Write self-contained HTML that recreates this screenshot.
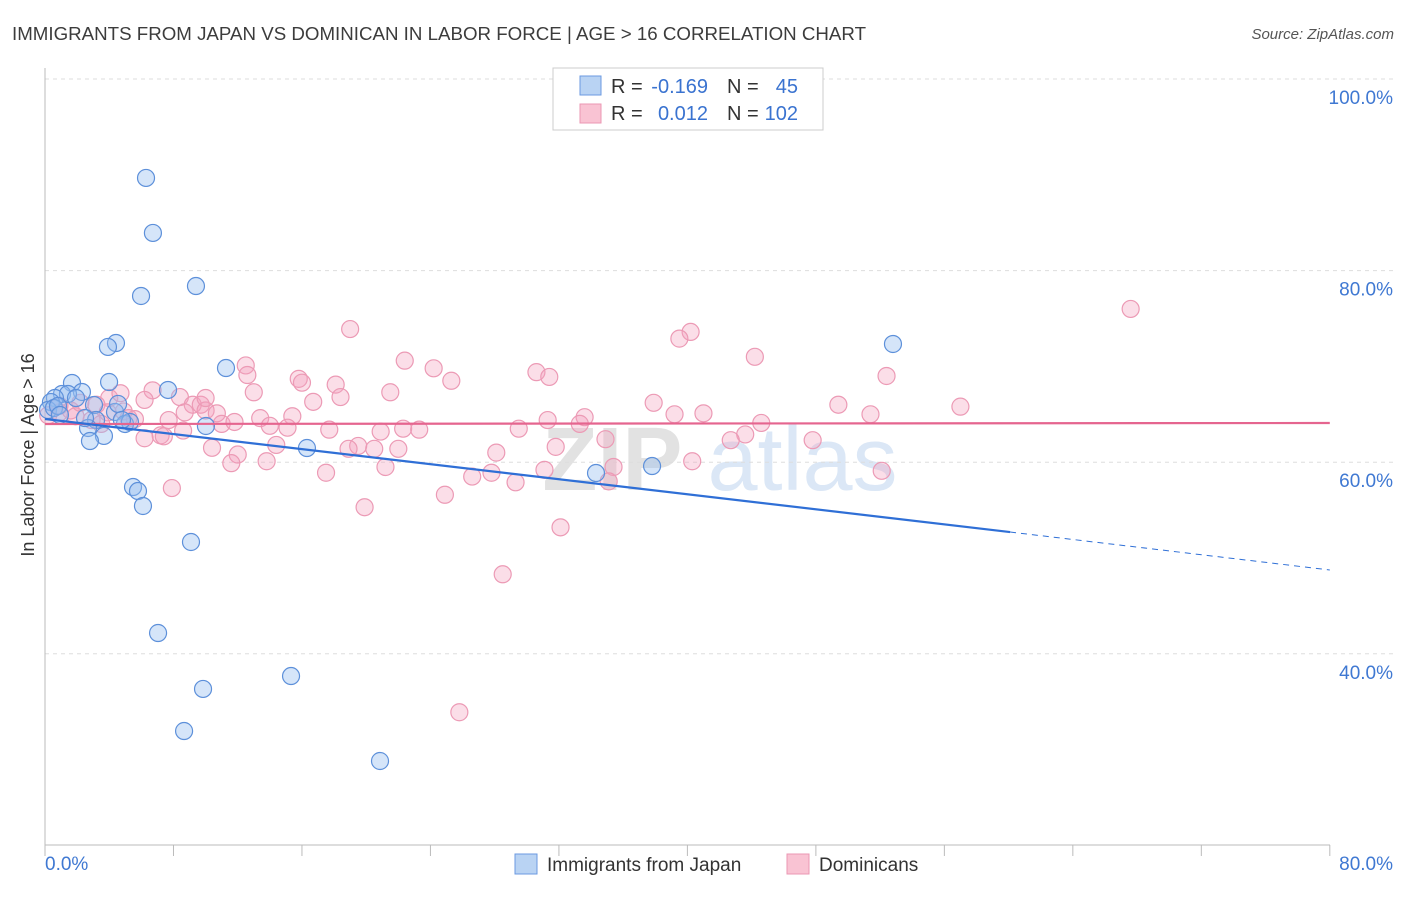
<!DOCTYPE html>
<html><head><meta charset="utf-8"><style>
body{margin:0;background:#fff;font-family:"Liberation Sans",sans-serif}
svg text{font-family:"Liberation Sans",sans-serif}
</style></head><body>
<svg id="c" width="1406" height="892" xmlns="http://www.w3.org/2000/svg">
<text x="12" y="40" font-size="18.5" fill="#3c3c3c" textLength="854" lengthAdjust="spacingAndGlyphs">IMMIGRANTS FROM JAPAN VS DOMINICAN IN LABOR FORCE | AGE &gt; 16 CORRELATION CHART</text>
<text x="1394" y="39" font-size="15" fill="#555" font-style="italic" text-anchor="end">Source: ZipAtlas.com</text>
<text x="720" y="490" font-size="90" fill="#e8e8e8" text-anchor="middle" font-family="Liberation Serif"><tspan font-weight="bold" fill="#e2e2e2">ZIP</tspan><tspan fill="#dbe7f6" font-family="Liberation Sans"> atlas</tspan></text>
<g id="grid"></g><g id="pink"></g><g id="blue"></g><g id="lines"></g>
<text transform="translate(34,455) rotate(-90)" font-size="18" fill="#333" text-anchor="middle">In Labor Force | Age &gt; 16</text>
<g>
<rect x="553" y="68" width="270" height="62" fill="#fff" stroke="#ccc"/>
<rect x="580" y="76" width="21" height="19" fill="#b9d3f3" stroke="#6b9ae0"/>
<rect x="580" y="104" width="21" height="19" fill="#f9c3d3" stroke="#eb97b3"/>
<text x="611" y="93" font-size="20" fill="#333">R =</text>
<text x="708" y="93" font-size="20" fill="#3a73d0" text-anchor="end">-0.169</text>
<text x="727" y="93" font-size="20" fill="#333">N =</text>
<text x="798" y="93" font-size="20" fill="#3a73d0" text-anchor="end">45</text>
<text x="611" y="120" font-size="20" fill="#333">R =</text>
<text x="708" y="120" font-size="20" fill="#3a73d0" text-anchor="end">0.012</text>
<text x="727" y="120" font-size="20" fill="#333">N =</text>
<text x="798" y="120" font-size="20" fill="#3a73d0" text-anchor="end">102</text>
</g>
<g>
<rect x="515" y="854" width="22" height="20" fill="#b9d3f3" stroke="#6b9ae0"/>
<text x="547" y="871" font-size="19" fill="#333">Immigrants from Japan</text>
<rect x="787" y="854" width="22" height="20" fill="#f9c3d3" stroke="#eb97b3"/>
<text x="819" y="871" font-size="19" fill="#333">Dominicans</text>
</g>
</svg>
<script>
const yTicks=[100,80,60,40];
const yTickLabels=["100.0%","80.0%","60.0%","40.0%"];
const xTickLabels=["0.0%","80.0%"];
const blueX=[6.29,6.72,5.98,9.40,4.42,3.92,11.27,3.99,7.66,1.68,2.30,1.06,1.43,0.62,0.37,1.93,0.19,0.56,0.81,3.05,4.36,4.55,3.18,2.68,3.67,2.80,4.98,5.29,10.02,16.31,5.48,5.79,6.10,9.09,7.04,9.84,15.32,8.66,20.86,52.80,34.31,37.80,4.79,2.49,0.93];
const blueY=[89.67,83.93,77.35,78.39,72.44,72.03,69.83,68.37,67.54,68.27,67.33,67.12,67.12,66.70,66.28,66.70,65.45,65.66,65.87,65.97,65.24,66.08,64.41,63.57,62.74,62.21,63.99,64.20,63.78,61.48,57.41,56.99,55.43,51.67,42.17,36.33,37.68,31.94,28.81,72.34,58.87,59.60,64.41,64.61,64.93];
const pinkX=[67.6,19.0,40.2,39.5,44.2,22.4,12.5,12.6,24.2,30.6,31.4,25.3,52.4,15.8,16.0,18.1,21.5,6.7,8.4,18.4,16.7,37.9,49.4,57.0,51.4,41.0,39.2,33.6,31.3,9.2,9.7,10.0,10.7,8.7,4.9,5.2,6.2,4.0,4.7,3.2,1.6,1.9,0.9,0.2,15.4,13.4,14.0,15.1,11.0,8.6,7.2,7.4,6.2,17.7,20.9,22.3,23.3,29.5,33.3,34.9,44.6,43.6,42.7,47.8,14.4,10.4,12.0,13.8,11.6,19.5,18.9,20.5,22.0,28.1,40.3,31.1,35.4,21.2,17.5,26.6,27.8,29.3,35.1,52.1,24.9,7.9,19.9,32.1,28.5,25.8,31.8,13.0,10.0,2.9,3.9,5.6,7.7,0.9,2.2,11.8,3.5];
const pinkY=[76.0,73.9,73.6,72.9,71.0,70.6,70.1,69.1,69.8,69.4,68.9,68.5,69.0,68.7,68.3,68.1,67.3,67.5,66.8,66.8,66.3,66.2,66.0,65.8,65.0,65.1,65.0,64.7,64.4,66.0,66.0,65.4,65.1,65.2,65.3,64.6,66.5,66.7,67.2,66.0,65.4,64.8,65.2,64.9,64.8,64.6,63.8,63.6,64.0,63.3,62.8,62.7,62.5,63.4,63.2,63.5,63.4,63.5,64.0,62.4,64.1,62.9,62.3,62.3,61.8,61.5,60.8,60.1,59.9,61.7,61.4,61.4,61.4,61.0,60.1,59.2,59.5,59.5,58.9,58.5,58.9,57.9,58.0,59.1,56.6,57.3,55.3,53.2,48.3,33.9,61.6,67.3,66.7,64.4,65.2,64.5,64.4,65.9,66.2,64.2,64.0];
const blueTrend=[64.51,52.71,48.75]; // at x=0, 60.09, 80
const pinkTrend=[63.99,64.09];
const sx=v=>45+v*16.06, sy=v=>79+(100-v)*9.58;
const NS="http://www.w3.org/2000/svg";
function mk(p,t,a){const e=document.createElementNS(NS,t);for(const k in a)e.setAttribute(k,a[k]);document.getElementById(p).appendChild(e);return e;}
yTicks.forEach((t,i)=>{
 const l=mk('grid','line',{x1:45,x2:1393,y1:sy(t),y2:sy(t),stroke:'#ddd','stroke-dasharray':'4,4'});
 
 
 const tx=mk('grid','text',{x:1393,y:sy(t)+25,'font-size':19,fill:'#3f78d2','text-anchor':'end'});
 tx.textContent=yTickLabels[i];
 
 
});
const ax=mk('grid','line',{x1:45,x2:45,y1:68,y2:845,stroke:'#bbb'});


const bx=mk('grid','line',{x1:45,x2:1330,y1:845,y2:845,stroke:'#bbb'});


for(let v=0;v<=80;v+=8){const t=mk('grid','line',{x1:sx(v),x2:sx(v),y1:845,y2:856,stroke:'#bbb'});
 
 }
[[0,'start',45],[80,'end',1393]].forEach((d,i)=>{const t=mk('grid','text',{x:d[2],y:870,'font-size':19,fill:'#3f78d2','text-anchor':d[1]});t.textContent=xTickLabels[i];
 
 });
pinkX.forEach((x,i)=>{const c=mk('pink','circle',{cx:sx(x),cy:sy(pinkY[i]),r:8.5,fill:'rgba(244,160,188,0.35)',stroke:'#ec9ab5','stroke-width':1.2});
 
 });
blueX.forEach((x,i)=>{const c=mk('blue','circle',{cx:sx(x),cy:sy(blueY[i]),r:8.5,fill:'rgba(150,190,240,0.4)',stroke:'#5d90da','stroke-width':1.2});
 
 });
let l1=mk('lines','line',{x1:sx(0),y1:sy(pinkTrend[0]),x2:sx(80),y2:sy(pinkTrend[1]),stroke:'#e5658f','stroke-width':2.2});


let l2=mk('lines','line',{x1:sx(0),y1:sy(blueTrend[0]),x2:sx(60.09),y2:sy(blueTrend[1]),stroke:'#2f6fd6','stroke-width':2.2});


let l3=mk('lines','line',{x1:sx(60.09),y1:sy(blueTrend[1]),x2:sx(80),y2:sy(blueTrend[2]),stroke:'#2f6fd6','stroke-width':1,'stroke-dasharray':'6,5'});


</script>
</body></html>
